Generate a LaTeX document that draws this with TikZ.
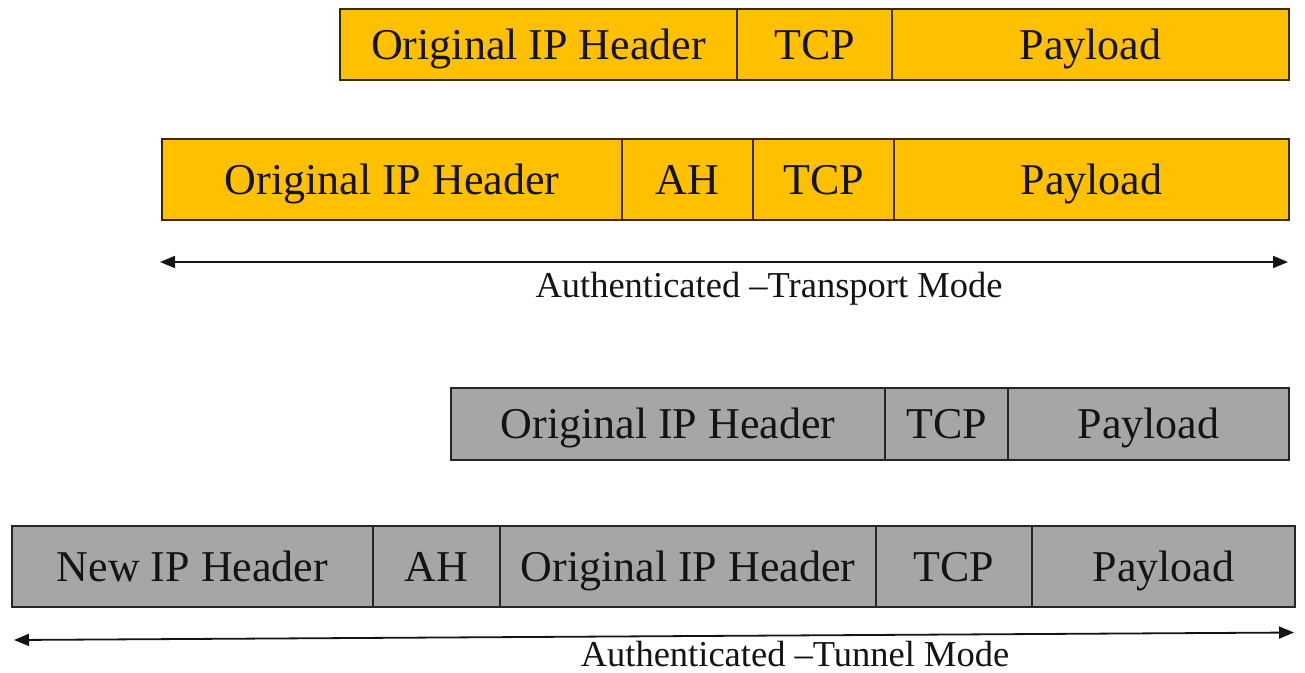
\documentclass[tikz,border=0pt]{standalone}
\usepackage{fontspec}
\setmainfont{Liberation Serif}
\usetikzlibrary{arrows.meta}
\definecolor{gold}{HTML}{FFC000}
\definecolor{goldline}{HTML}{3A2C00}
\definecolor{greyfill}{HTML}{A6A6A6}
\definecolor{greyline}{HTML}{262626}
\definecolor{ink}{HTML}{141414}
\tikzset{
  field/.style={rectangle, inner sep=0pt, outer sep=0pt, line width=1.6pt,
    text height=29pt, text depth=0pt, text=ink,
    font=\fontsize{44}{50}\selectfont},
  goldfield/.style={field, fill=gold, draw=goldline},
  greyfield/.style={field, fill=greyfill, draw=greyline},
  spanarrow/.style={line width=1.8pt, draw=ink, {Triangle[length=15pt,width=12pt]}-{Triangle[length=15pt,width=12pt]}},
  caption/.style={anchor=base, inner sep=0pt, text=ink, font=\fontsize{36.5}{42}\selectfont}
}
\begin{document}
\begin{tikzpicture}[x=1pt,y=-1pt]
\useasboundingbox (0,0) rectangle (1305,672);
% Row 1
\node[goldfield, minimum width=397pt, minimum height=71pt] (a1) at (538.5,44.5) {Original IP Header};
\node[goldfield, minimum width=155pt, minimum height=71pt] (a2) at (814.5,44.5) {TCP};
\node[goldfield, minimum width=397pt, minimum height=71pt] (a3) at (1090.5,44.5) {Payload};
% Row 2
\node[goldfield, minimum width=460pt, minimum height=81pt] (b1) at (392,179.5) {Original IP Header};
\node[goldfield, minimum width=131pt, minimum height=81pt] (b2) at (687.5,179.5) {AH};
\node[goldfield, minimum width=141pt, minimum height=81pt] (b3) at (823.5,179.5) {TCP};
\node[goldfield, minimum width=395pt, minimum height=81pt] (b4) at (1091.5,179.5) {Payload};
% Transport arrow
\coordinate (t1l) at (160,262);
\coordinate (t1r) at (1288,262);
\draw[spanarrow] (t1l) -- (t1r);
\node[caption] (cap1) at (769,297) {Authenticated –Transport Mode};
% Row 3
\node[greyfield, minimum width=434pt, minimum height=72pt] (c1) at (668,424) {Original IP Header};
\node[greyfield, minimum width=123pt, minimum height=72pt] (c2) at (946.5,424) {TCP};
\node[greyfield, minimum width=281pt, minimum height=72pt] (c3) at (1148.5,424) {Payload};
% Row 4
\node[greyfield, minimum width=361pt, minimum height=81pt] (d1) at (192.5,566.5) {New IP Header};
\node[greyfield, minimum width=127pt, minimum height=81pt] (d2) at (436.5,566.5) {AH};
\node[greyfield, minimum width=376pt, minimum height=81pt] (d3) at (688,566.5) {Original IP Header};
\node[greyfield, minimum width=156pt, minimum height=81pt] (d4) at (954,566.5) {TCP};
\node[greyfield, minimum width=263pt, minimum height=81pt] (d5) at (1163.5,566.5) {Payload};
% Tunnel arrow
\coordinate (t2l) at (14,640);
\coordinate (t2r) at (1294,632.5);
\draw[spanarrow] (t2l) -- (t2r);
\node[caption] (cap2) at (795,666) {Authenticated –Tunnel Mode};
\end{tikzpicture}
\end{document}
